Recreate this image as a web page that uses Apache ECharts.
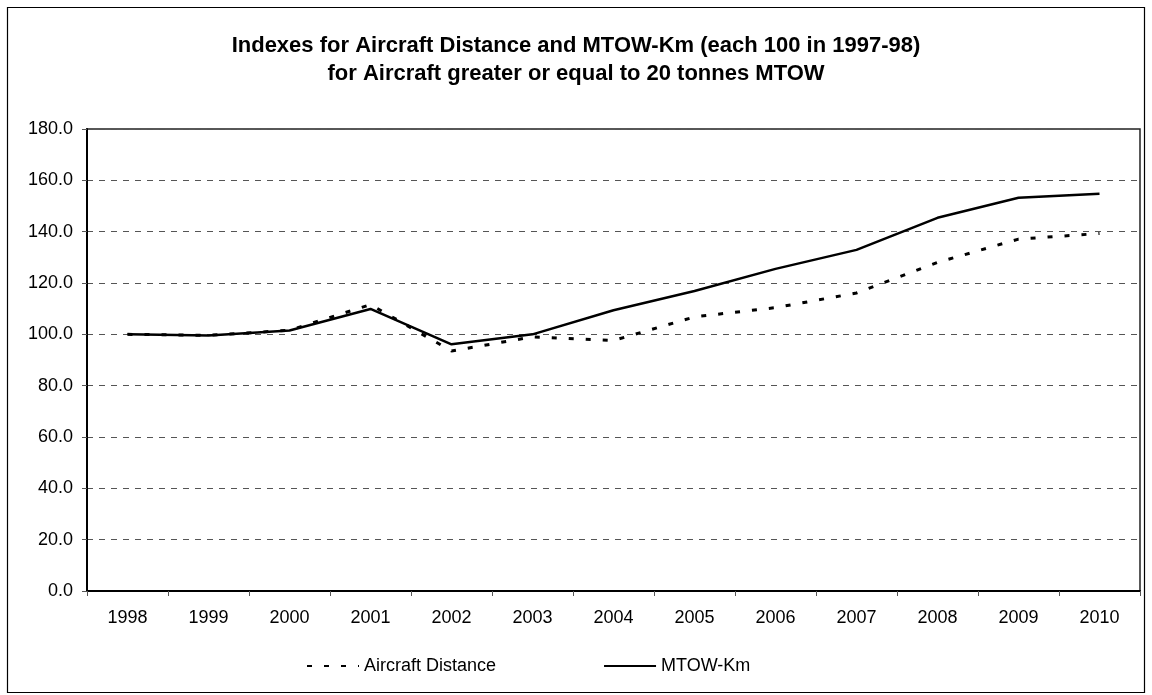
<!DOCTYPE html>
<html>
<head>
<meta charset="utf-8">
<script src="https://cdn.jsdelivr.net/npm/echarts@6/dist/echarts.min.js"></script>
<style>html,body{margin:0;padding:0;background:#fff;}#chart{width:1152px;height:695px;}</style>
</head>
<body>
<div id="chart"></div>
<script>
const years = ['1998','1999','2000','2001','2002','2003','2004','2005','2006','2007','2008','2009','2010'];
const aircraftDistance = [100.0, 99.6, 101.6, 111.6, 93.5, 99.0, 97.6, 106.8, 110.4, 116.1, 128.0, 137.1, 139.3];
const mtowKm = [100.0, 99.5, 101.5, 109.9, 96.1, 100.0, 109.4, 116.9, 125.5, 132.9, 145.4, 153.2, 154.8];
const titleLines = ['Indexes for Aircraft Distance and MTOW-Km (each 100 in 1997-98)', 'for Aircraft greater or equal to 20 tonnes MTOW'];

const chart = echarts.init(document.getElementById('chart'), null, {renderer: 'canvas'});
const font = 'Liberation Sans, Arial, sans-serif';
chart.setOption({
  animation: false,
  backgroundColor: '#fff',
  textStyle: {fontFamily: font},
  graphic: [{
    type: 'rect', shape: {x: 7.5, y: 7.5, width: 1137, height: 685},
    style: {fill: 'none', stroke: '#000', lineWidth: 1.2}, silent: true
  }],
  title: {
    text: titleLines.join('\n'),
    left: 'center', top: 27,
    textStyle: {fontFamily: font, fontSize: 22, fontWeight: 'bold', color: '#000', lineHeight: 28}
  },
  legend: {
    left: 306, top: 657, itemGap: 107, itemWidth: 52, itemHeight: 14, padding: 0,
    itemStyle: {opacity: 0},
    textStyle: {fontFamily: font, fontSize: 18, color: '#000'},
    data: ['Aircraft Distance', 'MTOW-Km']
  },
  grid: {left: 87, right: 12, top: 129, bottom: 104, show: true, borderColor: '#222', borderWidth: 1.5, containLabel: false},
  xAxis: {
    type: 'category', data: years, boundaryGap: true,
    axisLine: {lineStyle: {color: '#000', width: 2}},
    axisTick: {show: true, length: 5, lineStyle: {color: '#555'}},
    axisLabel: {fontFamily: font, fontSize: 18, color: '#000', margin: 18}
  },
  yAxis: {
    type: 'value', min: 0, max: 180, interval: 20,
    axisLine: {show: true, lineStyle: {color: '#000', width: 2}},
    axisTick: {show: true, length: 5, lineStyle: {color: '#555'}},
    axisLabel: {fontFamily: font, fontSize: 18, color: '#000', margin: 14, formatter: v => v.toFixed(1)},
    splitLine: {show: true, lineStyle: {color: '#555', width: 1, type: [6, 6]}}
  },
  series: [
    {
      name: 'Aircraft Distance', type: 'line', data: aircraftDistance, symbol: 'none',
      lineStyle: {color: '#000', width: 3, type: [5, 12]}, itemStyle: {color: '#000'}
    },
    {
      name: 'MTOW-Km', type: 'line', data: mtowKm, symbol: 'none',
      lineStyle: {color: '#000', width: 2.5}, itemStyle: {color: '#000'}
    }
  ]
});
</script>
</body>
</html>
